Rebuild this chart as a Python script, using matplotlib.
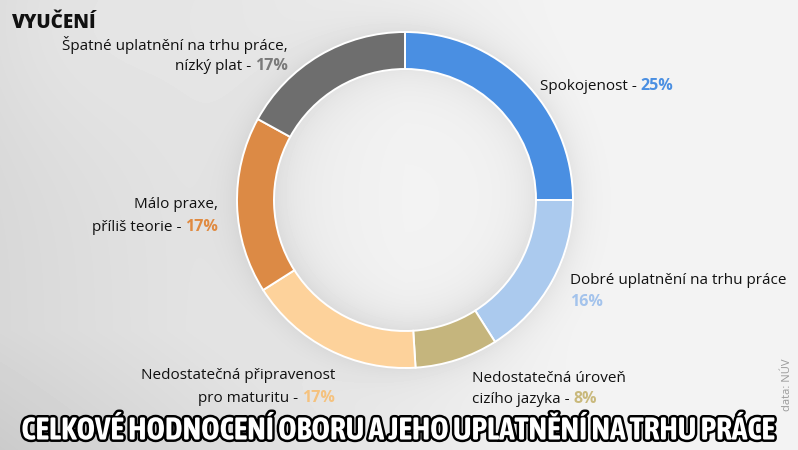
import numpy as np
import matplotlib
matplotlib.use("Agg")
import matplotlib.pyplot as plt
import matplotlib.patheffects as pe
from matplotlib import font_manager as fm

# ---------------- data ----------------
categories = ["Spokojenost", "Dobré uplatnění na trhu práce", "Nedostatečná úroveň cizího jazyka",
              "Nedostatečná připravenost pro maturitu", "Málo praxe, příliš teorie",
              "Špatné uplatnění na trhu práce, nízký plat"]
values = [25, 16, 8, 17, 17, 17]
ring_colors = ["#4a8fe2", "#abcaee", "#c5b57d", "#fdd29b", "#dc8a45", "#6e6e6e"]
pct_colors = ["#4a8fe2", "#a3c3ec", "#c9b97c", "#f5c27e", "#e08a40", "#7a7a7a"]
# label lines: (first line, second-line prefix before percent)
label_line1 = ["", "Dobré uplatnění na trhu práce", "Nedostatečná úroveň",
               "Nedostatečná připravenost", "Málo praxe,", "Špatné uplatnění na trhu práce,"]
label_line2 = ["Spokojenost - ", "", "cizího jazyka - ", "pro maturitu - ",
               "příliš teorie - ", "nízký plat - "]
corner_label = "VYUČENÍ"
title = "CELKOVÉ HODNOCENÍ OBORU A JEHO UPLATNĚNÍ NA TRHU PRÁCE"
source = "data: NÚV"

# layout (pixel coords from top): anchor x, baseline of line1, baseline of line2, alignment
label_pos = [(540, None, 90, "left"),
             (570, 284, 306, "left"),
             (472, 382, 403, "left"),
             (335, 379, 402, "right"),
             (218, 208, 231, "right"),
             (288, 50, 70, "right")]

W, H = 798, 450
fig = plt.figure(figsize=(W / 100, H / 100), dpi=100)
ax = fig.add_axes([0, 0, 1, 1])

# ---------------- background ----------------
yy, xx = np.mgrid[0:H, 0:W].astype(float)
cx, cy = 405.0, 200.0
R_out, R_in = 168.0, 131.0
bg = 0.955 - 0.11 * np.clip((600 - xx) / 600, 0, 1) ** 1.3
bg -= 0.05 * np.clip((yy - 330) / 120, 0, 1) * np.clip((650 - xx) / 650, 0, 1)
bg += 0.03 * np.exp(-((xx - 60) ** 2 + (yy - 20) ** 2) / (2 * 90 ** 2))
d = np.hypot(xx - cx, yy - cy)
outside = np.clip(d - R_out, 0, None)
bg -= np.where(d > R_out, 0.06 * np.exp(-outside / 16), 0)
inside = np.clip(R_in - d, 0, None)
inner_shade = 0.09 * np.exp(-inside / 22) * (0.6 + 0.4 * np.clip((yy - cy + 60) / 200, 0, 1))
disk = np.where(d < R_in, 0.95 - inner_shade - 0.02 * np.clip((cx - xx) / 130, 0, 1), bg)
bg = np.where(d < R_in, disk, bg)
bg = np.clip(bg, 0, 1)
ax.imshow(bg, cmap="gray", vmin=0, vmax=1, extent=(0, W, 0, H), origin="upper",
          interpolation="bilinear", zorder=0)

# ---------------- donut ----------------
ax.pie(values, colors=ring_colors, startangle=90, counterclock=False, radius=R_out,
       center=(cx, H - cy), frame=True,
       wedgeprops=dict(width=R_out - R_in, edgecolor="white", linewidth=1.4))
ax.set_xlim(0, W)
ax.set_ylim(0, H)
ax.set_aspect("auto")
ax.axis("off")

# ---------------- labels ----------------
fam = ["Open Sans", "DejaVu Sans"]
fs = 11
renderer = fig.canvas.get_renderer()


def line(x, ybase, parts, ha):
    """parts: list of (text, color, weight, size)."""
    texts = []
    for s, c, w, z in parts:
        if s == "":
            continue
        t = ax.text(0, H - ybase, s, color=c, fontsize=z, fontweight=w, family=fam,
                    va="baseline", ha="left", zorder=5)
        texts.append(t)
    widths = [t.get_window_extent(renderer).width for t in texts]
    total = sum(widths)
    start = x if ha == "left" else x - total
    for t, wd in zip(texts, widths):
        t.set_x(start)
        start += wd


for i, v in enumerate(values):
    x, y1, y2, ha = label_pos[i]
    if label_line1[i] and y1 is not None:
        line(x, y1, [(label_line1[i], "#111111", "normal", fs)], ha)
    line(x, y2, [(label_line2[i], "#111111", "normal", fs),
                 (f"{v}%", pct_colors[i], "bold", fs + 0.5)], ha)

ax.text(12, H - 28, corner_label, fontsize=13.5, fontweight="heavy", family=fam,
        color="#111111", ha="left", va="baseline", zorder=5)

ax.text(787, H - 385, source, fontsize=8, color="#9a9a9a", family=fam, rotation=90,
        ha="center", va="center", zorder=5)

# ---------------- title ----------------
cond = None
for f in fm.fontManager.ttflist:
    n = f.name
    if ("Condensed" in n or "Narrow" in n) and f.weight in ("bold", 700, "heavy", 800, 900, "black"):
        cond = n
        break
if cond is None:
    for f in fm.fontManager.ttflist:
        if "Condensed" in f.name or "Narrow" in f.name:
            cond = f.name
            break
tfam = [cond, "DejaVu Sans"] if cond else ["DejaVu Sans"]
tt = ax.text(W / 2, H - 431, title, fontsize=20, fontweight="bold", family=tfam,
             color="white", ha="center", va="center", zorder=6,
             path_effects=[pe.withStroke(linewidth=3.5, foreground="black")])
w0 = tt.get_window_extent(renderer).width
tt.set_fontsize(20 * 752 / w0)

fig.savefig("out.png", dpi=100)
